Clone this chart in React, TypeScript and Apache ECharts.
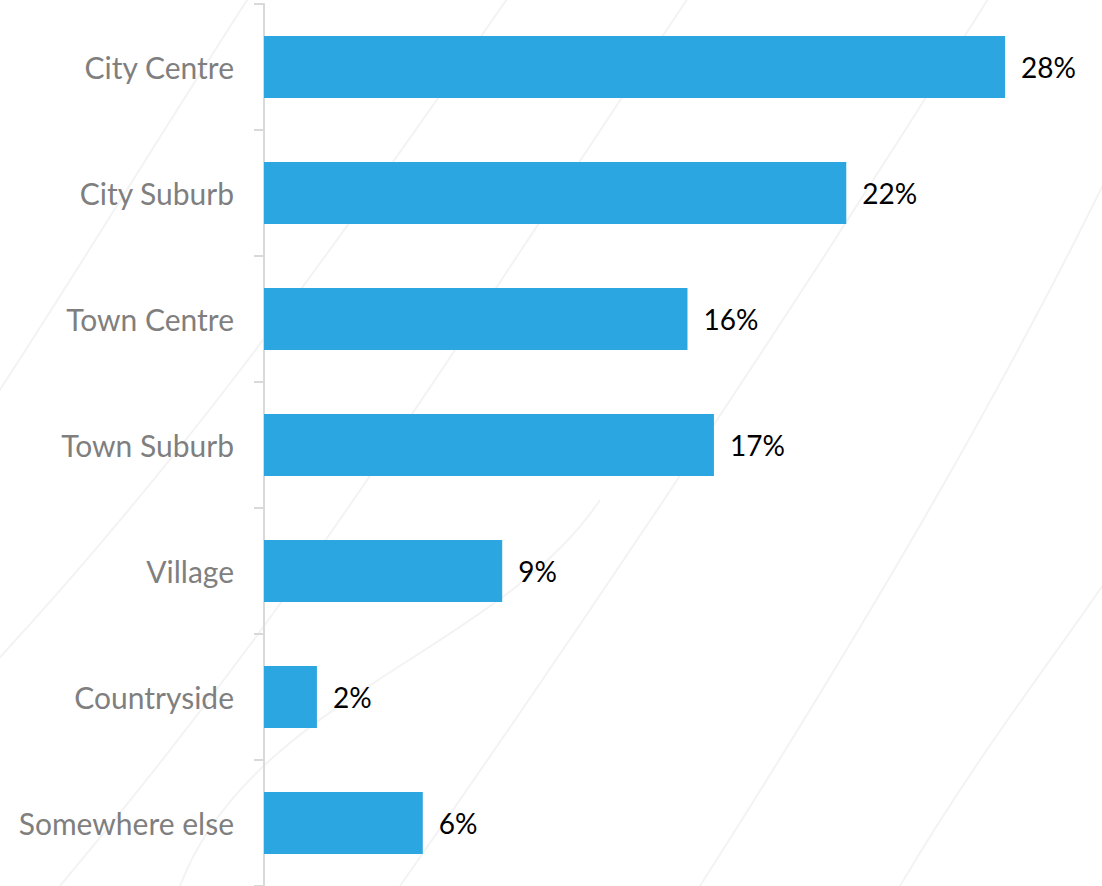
import React, { useEffect, useRef } from "react";
import * as echarts from "echarts";

const categories = [
  "City Centre",
  "City Suburb",
  "Town Centre",
  "Town Suburb",
  "Village",
  "Countryside",
  "Somewhere else",
];
const values = [28, 22, 16, 17, 9, 2, 6];

export default function App() {
  const ref = useRef<HTMLDivElement>(null);
  useEffect(() => {
    if (!ref.current) return;
    const chart = echarts.init(ref.current, null, { renderer: "svg" });
    const curves: any[] = [];
    const bg = [
      [[-40, 700], [150, 500], [300, 300], [520, -20]],
      [[60, 886], [300, 600], [420, 400], [700, -20]],
      [[400, 886], [600, 600], [800, 300], [1000, -20]],
      [[700, 886], [850, 650], [1000, 400], [1120, 150]],
      [[900, 886], [980, 750], [1060, 650], [1120, 560]],
      [[-20, 420], [60, 300], [150, 150], [260, -20]],
      [[180, 886], [250, 700], [500, 650], [600, 500]],
    ];
    bg.forEach((p) =>
      curves.push({
        type: "bezierCurve",
        silent: true,
        z: -10,
        shape: {
          x1: p[0][0], y1: p[0][1],
          cpx1: p[1][0], cpy1: p[1][1],
          cpx2: p[2][0], cpy2: p[2][1],
          x2: p[3][0], y2: p[3][1],
        },
        style: { stroke: "#f3f3f3", lineWidth: 2, fill: "none" },
      })
    );
    chart.setOption({
      animation: false,
      backgroundColor: "#ffffff",
      graphic: curves,
      grid: { left: 264, right: 44, top: 4, bottom: 0, containLabel: false },
      xAxis: {
        type: "value",
        min: 0,
        max: 30,
        show: false,
      },
      yAxis: {
        type: "category",
        data: categories,
        inverse: true,
        axisLine: { show: true, lineStyle: { color: "#d9d9d9", width: 2 } },
        axisTick: { show: true, length: 10, lineStyle: { color: "#d9d9d9", width: 2 } },
        axisLabel: {
          color: "#7f7f7f",
          fontSize: 30,
          fontFamily: "Lato, 'Open Sans', sans-serif",
          margin: 30,
        },
        splitLine: { show: false },
      },
      series: [
        {
          type: "bar",
          data: values,
          barWidth: 62,
          itemStyle: { color: "#2ca6e0" },
          label: {
            show: true,
            position: "right",
            distance: 16,
            formatter: "{c}%",
            color: "#000000",
            fontSize: 28,
            fontFamily: "Lato, 'Open Sans', sans-serif",
          },
        },
      ],
    });
    return () => chart.dispose();
  }, []);
  return (
    <div
      ref={ref}
      style={{ position: "fixed", left: 0, top: 0, width: 1102, height: 886 }}
    />
  );
}
